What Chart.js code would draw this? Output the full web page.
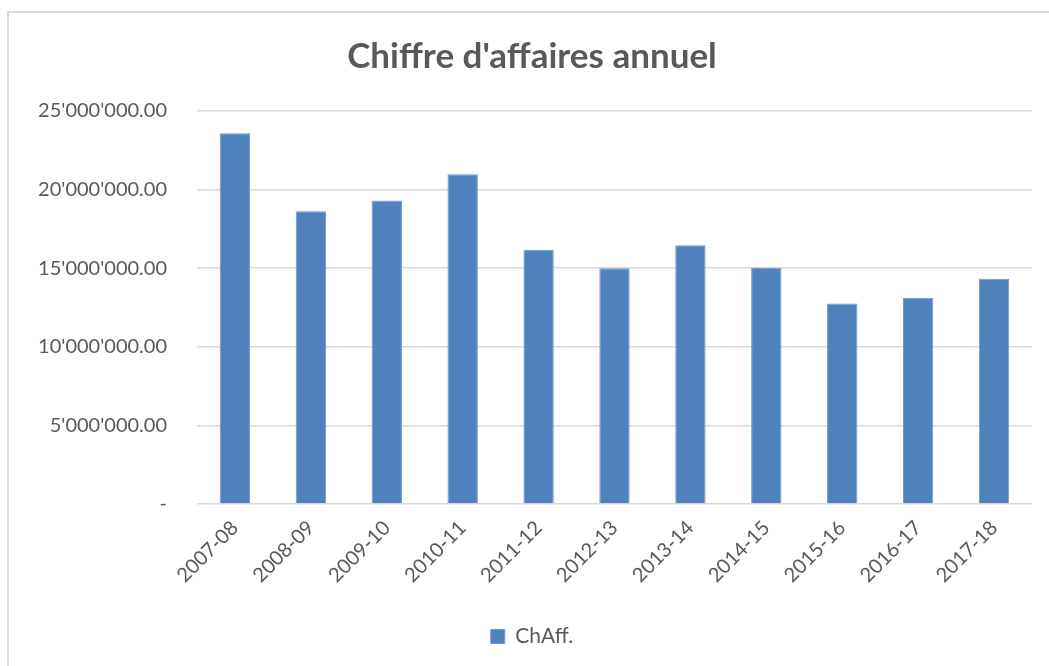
<!DOCTYPE html>
<html>
<head>
<meta charset="utf-8">
<script src="https://cdn.jsdelivr.net/npm/chart.js@4/dist/chart.umd.min.js"></script>
<style>
  html, body { margin: 0; padding: 0; background: #fff; }
  body { width: 1049px; height: 666px; overflow: hidden; position: relative; }
  #frame {
    position: absolute; left: 7px; top: 11px; width: 1060px; height: 680px;
    border: 2px solid #d9d9d9; box-sizing: border-box;
  }
  #wrap { position: absolute; left: 0; top: 0; width: 1049px; height: 666px; }
</style>
</head>
<body>
<div id="frame"></div>
<div id="wrap"><canvas id="chart" width="1049" height="666"></canvas></div>
<script>
// values
const seasons = ["2007-08", "2008-09", "2009-10", "2010-11", "2011-12", "2012-13",
                 "2013-14", "2014-15", "2015-16", "2016-17", "2017-18"];
const chAff = [23590000, 18630000, 19310000, 20970000, 16180000, 14990000,
               16460000, 15030000, 12750000, 13120000, 14330000];
const yTicks = [0, 5000000, 10000000, 15000000, 20000000, 25000000];

const textGrey = "#595959";
const fontFamily = "Lato, 'Liberation Sans', sans-serif";

/**
 * Formats a number like 25'000'000.00, zero is shown as a dash.
 */
function formatSwiss(value) {
    if (value === 0) return "-";
    const parts = value.toFixed(2).split(".");
    return parts[0].replace(/\B(?=(\d{3})+(?!\d))/g, "'") + "." + parts[1];
}

new Chart(document.getElementById("chart"), {
    type: "bar",
    data: {
        labels: seasons,
        datasets: [{
            label: "ChAff.",
            data: chAff,
            backgroundColor: "#4f81bd",
            borderColor: "#6e98cf",
            borderWidth: 1,
            barPercentage: 0.4,
            categoryPercentage: 1
        }]
    },
    options: {
        responsive: false,
        animation: false,
        layout: { padding: { left: 32, right: 17, top: 0, bottom: 9 } },
        plugins: {
            title: {
                display: true,
                text: "Chiffre d'affaires annuel",
                color: textGrey,
                font: { family: fontFamily, size: 35, weight: "bold" },
                padding: { top: 36, bottom: 33 }
            },
            legend: {
                position: "bottom",
                labels: {
                    color: textGrey,
                    font: { family: fontFamily, size: 21 },
                    boxWidth: 14,
                    boxHeight: 14,
                    padding: 10
                }
            },
            tooltip: { enabled: false }
        },
        scales: {
            x: {
                grid: { display: false },
                border: { display: false },
                ticks: {
                    color: textGrey,
                    font: { family: fontFamily, size: 20 },
                    minRotation: 45,
                    maxRotation: 45,
                    padding: 4
                },
                afterFit: scale => { scale.height = 112; }
            },
            y: {
                min: 0,
                max: 25000000,
                afterBuildTicks: scale => { scale.ticks = yTicks.map(v => ({ value: v })); },
                grid: { color: "#d9d9d9", lineWidth: 1.5, drawTicks: false },
                border: { display: false },
                ticks: {
                    color: textGrey,
                    font: { family: fontFamily, size: 20 },
                    padding: 30,
                    callback: v => formatSwiss(v)
                },
                afterFit: scale => { scale.width = 165; }
            }
        }
    }
});
</script>
</body>
</html>
